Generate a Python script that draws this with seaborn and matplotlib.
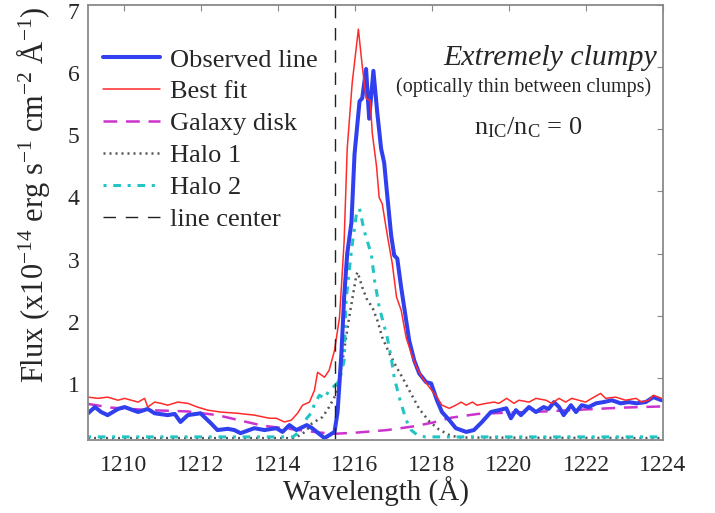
import numpy as np
import pandas as pd
import matplotlib
matplotlib.use('Agg')
import matplotlib.pyplot as plt
import matplotlib.transforms as mtransforms
import seaborn as sns

# ---- data (wavelength in Angstrom, flux in 1e-14 cgs) ----
obs_wave = [1209.07, 1209.25, 1209.41, 1209.58, 1209.85, 1210.02, 1210.37, 1210.62, 1210.80, 1211.14,
            1211.32, 1211.47, 1211.66, 1211.99, 1212.26, 1212.43, 1212.70, 1212.87, 1213.03, 1213.39,
            1213.65, 1213.96, 1214.12, 1214.30, 1214.48, 1214.75, 1214.89, 1215.21, 1215.47, 1215.55,
            1215.65, 1215.72, 1215.80, 1215.91, 1215.99, 1216.12, 1216.19, 1216.29, 1216.37, 1216.48,
            1216.58, 1216.68, 1216.76, 1216.84, 1216.94, 1217.02, 1217.10, 1217.20, 1217.41, 1217.54,
            1217.67, 1217.85, 1217.98, 1218.13, 1218.26, 1218.45, 1218.62, 1218.89, 1219.09, 1219.30,
            1219.53, 1219.74, 1219.93, 1220.05, 1220.18, 1220.31, 1220.52, 1220.70, 1220.90, 1221.03,
            1221.17, 1221.30, 1221.42, 1221.61, 1221.74, 1221.89, 1222.07, 1222.26, 1222.46, 1222.67,
            1222.90, 1223.11, 1223.31, 1223.55, 1223.75, 1223.96]
obs_flux = [0.43, 0.53, 0.45, 0.40, 0.50, 0.53, 0.45, 0.50, 0.43, 0.40,
            0.42, 0.29, 0.40, 0.43, 0.27, 0.16, 0.18, 0.16, 0.11, 0.19,
            0.16, 0.19, 0.13, 0.24, 0.16, 0.24, 0.19, 0.03, 0.13, 0.45,
            1.40, 2.30, 3.00, 3.50, 4.60, 5.45, 5.50, 5.97, 5.17, 5.94,
            5.27, 4.69, 4.46, 3.93, 3.30, 2.97, 2.92, 2.46, 1.60, 1.28,
            1.07, 0.93, 0.91, 0.64, 0.45, 0.32, 0.19, 0.13, 0.16, 0.29,
            0.45, 0.48, 0.51, 0.35, 0.48, 0.40, 0.53, 0.45, 0.53, 0.50,
            0.61, 0.53, 0.40, 0.56, 0.45, 0.56, 0.53, 0.59, 0.61, 0.64,
            0.59, 0.61, 0.59, 0.61, 0.69, 0.64]

fit_wave = [1209.07, 1209.33, 1209.58, 1209.85, 1210.02, 1210.37, 1210.54, 1210.62, 1210.80, 1210.96,
            1211.14, 1211.40, 1211.66, 1211.91, 1212.18, 1212.51, 1212.95, 1213.39, 1213.78, 1213.96,
            1214.17, 1214.35, 1214.51, 1214.64, 1214.82, 1214.95, 1215.03, 1215.21, 1215.33, 1215.47,
            1215.60, 1215.68, 1215.72, 1215.80, 1215.93, 1216.09, 1216.19, 1216.29, 1216.40, 1216.45,
            1216.56, 1216.63, 1216.71, 1216.84, 1216.97, 1217.08, 1217.20, 1217.33, 1217.46, 1217.60,
            1217.74, 1217.93, 1218.13, 1218.26, 1218.45, 1218.62, 1218.76, 1218.89, 1219.05, 1219.17,
            1219.41, 1219.61, 1219.74, 1219.94, 1220.13, 1220.26, 1220.52, 1220.70, 1220.96, 1221.11,
            1221.30, 1221.47, 1221.63, 1221.81, 1221.99, 1222.15, 1222.38, 1222.51, 1222.77, 1223.03,
            1223.30, 1223.44, 1223.63, 1223.75, 1223.96]
fit_flux = [0.69, 0.67, 0.69, 0.64, 0.67, 0.61, 0.67, 0.53, 0.61, 0.59,
            0.56, 0.61, 0.59, 0.53, 0.48, 0.45, 0.43, 0.40, 0.35, 0.35,
            0.29, 0.32, 0.43, 0.56, 0.61, 0.80, 1.09, 1.01, 1.12, 1.44,
            1.97, 2.78, 3.20, 4.69, 5.75, 6.61, 6.02, 5.50, 5.46, 4.94,
            4.41, 3.90, 3.80, 3.30, 2.84, 2.30, 2.09, 1.65, 1.40, 1.17,
            1.01, 0.85, 0.69, 0.56, 0.51, 0.56, 0.61, 0.56, 0.61, 0.56,
            0.59, 0.61, 0.59, 0.67, 0.59, 0.64, 0.61, 0.67, 0.64, 0.59,
            0.67, 0.61, 0.67, 0.64, 0.61, 0.67, 0.75, 0.67, 0.69, 0.64,
            0.67, 0.61, 0.64, 0.72, 0.67]

disk_wave = [1209.07, 1209.69, 1210.67, 1211.65, 1212.43, 1213.12, 1213.61, 1214.29, 1215.08, 1215.47,
             1216.06, 1216.84, 1217.53, 1218.02, 1218.51, 1219.20, 1219.97, 1220.95, 1221.93, 1222.91,
             1223.96]
disk_flux = [0.58, 0.52, 0.48, 0.46, 0.40, 0.30, 0.23, 0.18, 0.12, 0.10,
             0.12, 0.16, 0.22, 0.28, 0.36, 0.42, 0.44, 0.46, 0.49, 0.52,
             0.54]

halo1_wave = [1209.07, 1214.39, 1214.59, 1214.74, 1214.89, 1215.16, 1215.33, 1215.52, 1215.68, 1215.85,
              1216.04, 1216.07, 1216.19, 1216.32, 1216.45, 1216.58, 1216.71, 1216.89, 1217.08, 1217.23,
              1217.41, 1217.67, 1217.93, 1218.18, 1218.45, 1218.70, 1223.96]
halo1_flux = [0.03, 0.03, 0.08, 0.15, 0.27, 0.37, 0.53, 0.75, 1.28, 1.97,
              2.66, 2.70, 2.46, 2.25, 2.14, 1.93, 1.65, 1.40, 1.17, 1.01,
              0.80, 0.50, 0.30, 0.17, 0.08, 0.04, 0.03]

halo2_wave = [1209.07, 1214.39, 1214.59, 1214.75, 1214.89, 1214.95, 1215.08, 1215.21, 1215.33, 1215.52,
              1215.60, 1215.72, 1215.77, 1215.91, 1216.04, 1216.12, 1216.24, 1216.37, 1216.43, 1216.51,
              1216.63, 1216.84, 1216.94, 1217.02, 1217.15, 1217.33, 1217.46, 1217.62, 1217.82, 1223.96]
halo2_flux = [0.05, 0.05, 0.15, 0.35, 0.45, 0.59, 0.72, 0.67, 0.80, 0.90,
              0.96, 1.28, 2.25, 3.05, 3.64, 3.72, 3.37, 3.10, 2.97, 2.57,
              2.14, 1.65, 1.33, 1.01, 0.69, 0.32, 0.16, 0.08, 0.05, 0.05]

line_center = 1215.47
xticks = [1210, 1212, 1214, 1216, 1218, 1220, 1222, 1224]
yticks = [1, 2, 3, 4, 5, 6, 7]

# ---- style ----
sns.set_style('white')
plt.rcParams['font.family'] = ['Liberation Serif', 'DejaVu Serif']
plt.rcParams['mathtext.default'] = 'regular'

fig = plt.figure(figsize=(7.15, 5.13), dpi=100)
ax = fig.add_axes([0.1231, 0.1423, 0.8042, 0.8480])

sns.lineplot(x=disk_wave, y=disk_flux, ax=ax, color='#cc33cc', lw=1.8,
             linestyle=(0, (5.5, 3.5)), label='Galaxy disk')
sns.lineplot(x=halo1_wave, y=halo1_flux, ax=ax, color='#555555', lw=1.8,
             linestyle=(0, (0.8, 1.6)), label='Halo 1')
sns.lineplot(x=halo2_wave, y=halo2_flux, ax=ax, color='#22c4c4', lw=2.2,
             linestyle=(0, (1, 2.2, 2.5, 2.2)), label='Halo 2')
sns.lineplot(x=obs_wave, y=obs_flux, ax=ax, color='#3040ee', lw=2.9, label='Observed line')
sns.lineplot(x=fit_wave, y=fit_flux, ax=ax, color='#ff2a2a', lw=1.1, label='Best fit')
ax.axvline(line_center, color='#222222', lw=1.0, linestyle=(0, (9, 7)), label='line center')

ax.set_xlim(1209.07, 1223.96)
ax.set_ylim(0, 7)
ax.set_xticks(xticks)
ax.set_yticks(yticks)
ax.tick_params(direction='in', top=True, right=True, length=4, color='#888888', labelsize=17)
ax.tick_params(axis='x', pad=11)
ax.tick_params(axis='y', pad=6)
for sp in ax.spines.values():
    sp.set_color('#8a8a8a')
    sp.set_linewidth(1.3)

# y tick labels sit a little below their ticks in the original
shift = mtransforms.ScaledTranslation(0, -6 / 100, fig.dpi_scale_trans)
for lab in ax.get_yticklabels():
    lab.set_transform(lab.get_transform() + shift)

ax.set_xlabel('Wavelength (Å)', fontsize=21, labelpad=0)
ax.set_ylabel('Flux (x10$^{-14}$ erg s$^{-1}$ cm$^{-2}$ Å$^{-1}$)', fontsize=22)
ax.yaxis.label.set_va('center')
ax.yaxis.set_label_coords(-0.095, 0.563)

handles, labels = ax.get_legend_handles_labels()
order = ['Observed line', 'Best fit', 'Galaxy disk', 'Halo 1', 'Halo 2', 'line center']
hmap = dict(zip(labels, handles))
ax.legend([hmap[k] for k in order], order, loc='upper left', bbox_to_anchor=(0.026, 0.901),
          frameon=False, fontsize=19, handlelength=2.15, handletextpad=0.4,
          labelspacing=0.32, borderaxespad=0, borderpad=0)

ax.text(0.803, 0.878, 'Extremely clumpy', transform=ax.transAxes, ha='center', va='center',
        fontsize=21.5, style='italic')
ax.text(0.757, 0.811, '(optically thin between clumps)', transform=ax.transAxes,
        ha='center', va='center', fontsize=14.5)
ax.text(0.766, 0.717, 'n$_{IC}$/n$_C$ = 0', transform=ax.transAxes, ha='center',
        va='center', fontsize=19)

fig.savefig('out.png', dpi=100)
